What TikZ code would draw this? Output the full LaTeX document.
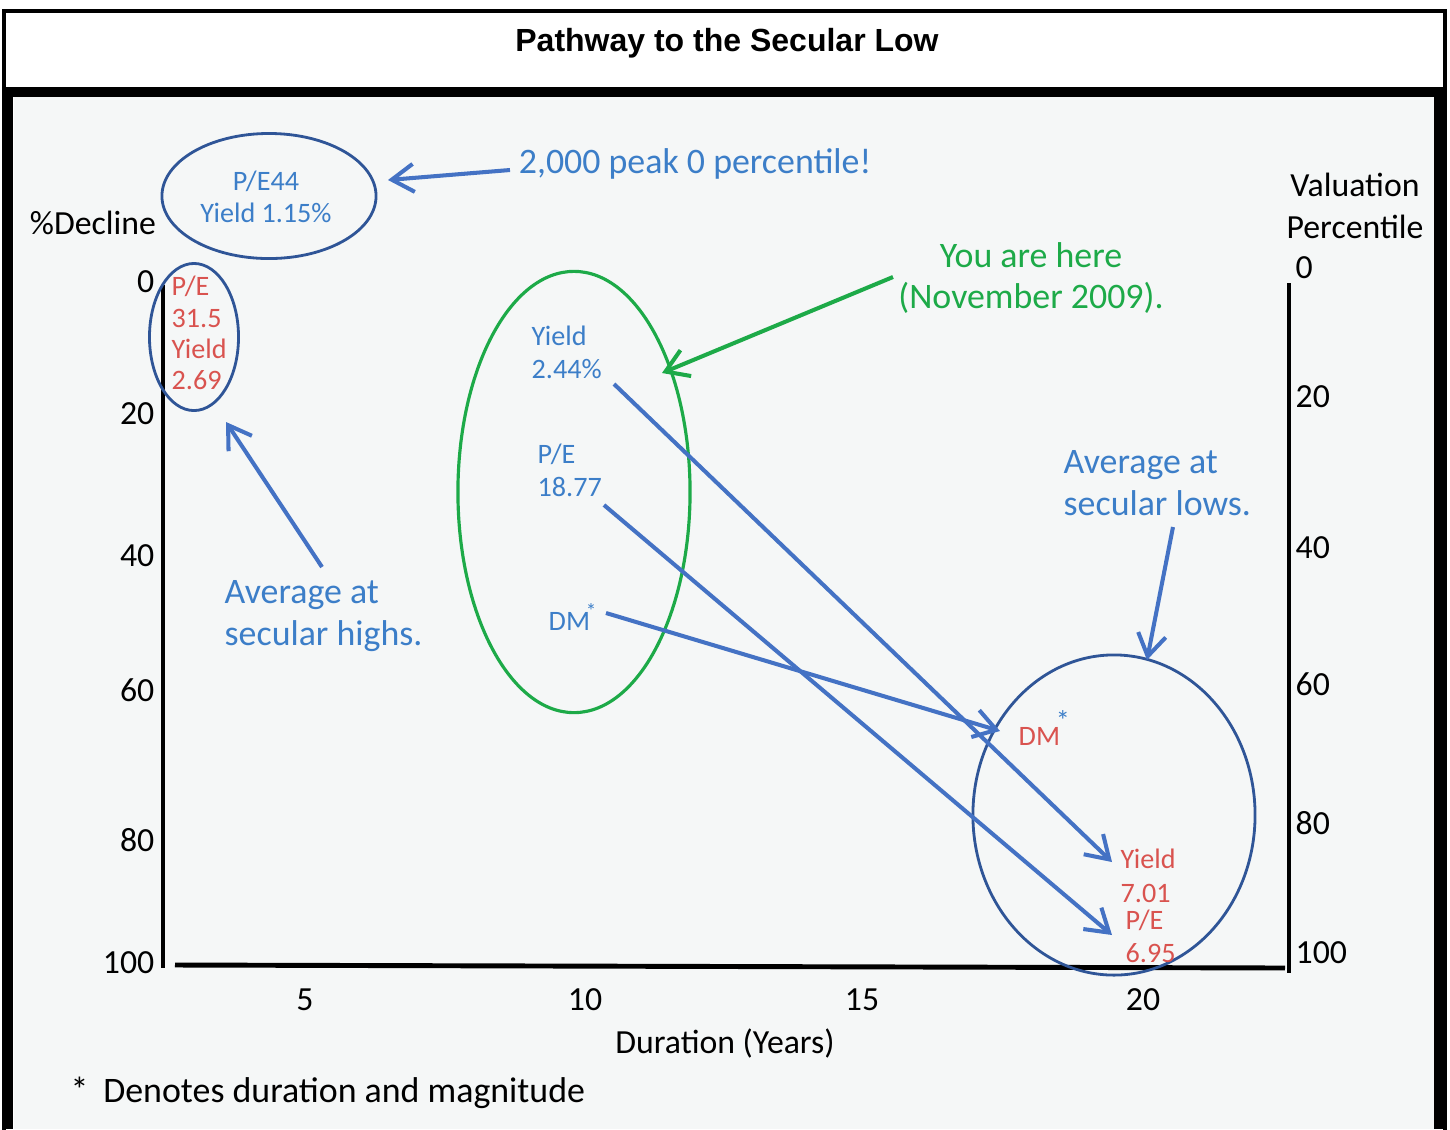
\documentclass[tikz,border=0pt]{standalone}
\usepackage{fontspec}
\setmainfont{Carlito}
\newfontfamily\titlefont{Liberation Sans}
\usetikzlibrary{shapes.geometric,arrows.meta}
\definecolor{navy}{HTML}{2F5597}
\definecolor{arrowblue}{HTML}{4472C4}
\definecolor{textblue}{HTML}{3C7EC8}
\definecolor{textred}{HTML}{D9534F}
\definecolor{grn}{HTML}{1DAA48}
\definecolor{panel}{HTML}{F5F7F7}
\newcommand{\dmstar}{\kern-1.2pt\raisebox{1.1ex}{*}}
\begin{document}
\begin{tikzpicture}[x=0.01cm,y=-0.01cm,
    every node/.style={font=\fontsize{9.6}{11.5}\selectfont,inner sep=0pt},
    small/.style={font=\fontsize{8}{9.2}\selectfont},
    big/.style={font=\fontsize{10.2}{11.8}\selectfont},
    oval/.style={draw=navy,line width=0.8pt,ellipse,inner sep=0pt},
    link/.style={draw=arrowblue,line width=1.15pt,-{Straight Barb[length=2.2mm,width=2.8mm]}}]
    \useasboundingbox (0,0) rectangle (1450,1129);
    % frame and panel
    \fill[white] (0,0) rectangle (1450,1129);
    \fill[panel] (14,97) rectangle (1434,1129);
    \draw[line width=0.9pt] (4,11) rectangle (1445,1140);
    \fill (4,87) rectangle (1446,97);
    \fill (3,97) rectangle (13,1129);
    \fill (1434,97) rectangle (1447,1129);
    \node[font=\titlefont\bfseries\fontsize{9.1}{11}\selectfont] (title) at (727,43) {Pathway to the Secular Low};
    % axes
    \draw[line width=1.4pt] (163,285) -- (163,968);
    \draw[line width=1.4pt] (175,965) -- (1285,968);
    \draw[line width=1.4pt] (1289,283) -- (1289,973);
    \foreach \v/\y in {0/282,20/414,40/556,60/690,80/840,100/963}
        \node[anchor=east] (left\v) at (155,\y) {\v};
    \foreach \v/\y in {0/268,20/397,40/548,60/684,80/823,100/953}
        \node[anchor=west] (right\v) at (1295,\y) {\v};
    \foreach \v/\x in {5/305,10/585,15/862,20/1143}
        \node (bottom\v) at (\x,1000) {\v};
    \node (decline) at (93,223) {\%Decline};
    \node[align=center,font=\fontsize{9.6}{12}\selectfont] (valuation) at (1355,206) {Valuation\\Percentile};
    \node (duration) at (725,1043) {Duration (Years)};
    \node[anchor=west,font=\fontsize{10.2}{12}\selectfont] (note) at (70,1093) {*\hspace{4.2pt}Denotes duration and magnitude};
    % peak
    \node[oval,minimum width=2.14cm,minimum height=1.25cm] (peakoval) at (269,196) {};
    \node[small,textblue,align=center] (peaktext) at (266,197) {P/E44\\Yield 1.15\%};
    \node[big,textblue] (peak) at (695,164) {2,000 peak 0 percentile!};
    \coordinate (peakfrom) at (510,170);
    \coordinate (peakto) at (388,180);
    \draw[link] (peakfrom) -- (peakto);
    % secular highs
    \node[oval,minimum width=0.89cm,minimum height=1.47cm] (highoval) at (194,337) {};
    \node[small,textred,align=left,anchor=west,font=\fontsize{8}{8.9}\selectfont] (hightext) at (171,333) {P/E\\31.5\\Yield\\2.69};
    \node[big,textblue,align=left,anchor=west] (highs) at (224,616) {Average at\\secular highs.};
    \coordinate (highfrom) at (322,567);
    \coordinate (highto) at (226,422);
    \draw[link] (highfrom) -- (highto);
    % now
    \node[draw=grn,line width=0.9pt,ellipse,minimum width=2.32cm,minimum height=4.41cm] (nowoval) at (574,492) {};
    \node[small,textblue,align=left,anchor=west,font=\fontsize{8}{9.4}\selectfont] (yieldnow) at (531,352) {Yield\\2.44\%};
    \node[small,textblue,align=left,anchor=west,font=\fontsize{8}{9.4}\selectfont] (penow) at (537,470) {P/E\\18.77};
    \node[small,textblue,anchor=west] (dmnow) at (548,617) {DM{\fontsize{6}{6}\selectfont\dmstar}};
    \node[big,text=grn,align=center,font=\fontsize{10.2}{11.7}\selectfont] (here) at (1031,278) {You are here\\(November 2009).};
    \coordinate (herefrom) at (893,277);
    \coordinate (hereto) at (662,373);
    \draw[draw=grn,line width=1.15pt,-{Straight Barb[length=2.2mm,width=2.8mm]}] (herefrom) -- (hereto);
    % secular lows
    \node[oval,minimum width=2.82cm,minimum height=3.2cm] (lowoval) at (1114,815) {};
    \node[small,textred,anchor=west] (dmlow) at (1018,728) {DM\textcolor{textblue}{\dmstar}};
    \node[small,textred,align=left,anchor=west,font=\fontsize{8}{9.6}\selectfont] (yieldlow) at (1120,876) {Yield\\7.01};
    \node[small,textred,align=left,anchor=west,font=\fontsize{8}{9.4}\selectfont] (pelow) at (1125,936) {P/E\\6.95};
    \node[big,textblue,align=left,anchor=west] (lows) at (1063,483) {Average at\\secular lows.};
    \coordinate (lowfrom) at (1173,527);
    \coordinate (lowto) at (1147,660);
    \draw[link] (lowfrom) -- (lowto);
    % pathways
    \coordinate (yieldfrom) at (614,384);
    \coordinate (yieldto) at (1112,862);
    \coordinate (pefrom) at (604,505);
    \coordinate (peto) at (1112,935);
    \coordinate (dmfrom) at (606,613);
    \coordinate (dmto) at (1000,731);
    \draw[link] (yieldfrom) -- (yieldto);
    \draw[link] (pefrom) -- (peto);
    \draw[link] (dmfrom) -- (dmto);
\end{tikzpicture}
\end{document}
